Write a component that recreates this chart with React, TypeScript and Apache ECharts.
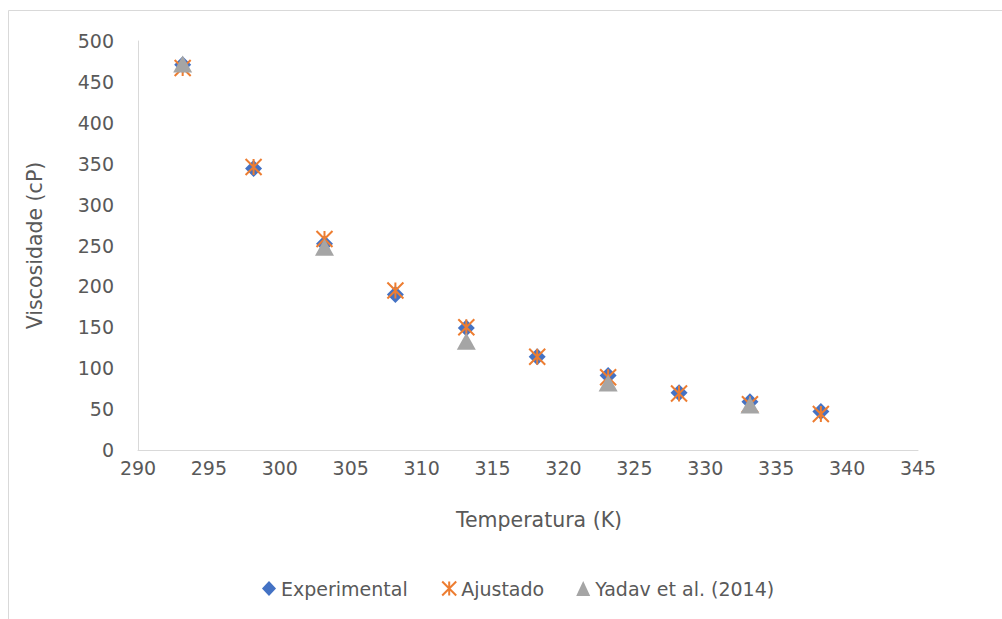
import React, { useEffect, useRef } from "react";
import * as echarts from "echarts";

const temps = [293.15, 298.15, 303.15, 308.15, 313.15, 318.15, 323.15, 328.15, 333.15, 338.15];
const experimental = [471, 344, 252, 190, 149, 114, 91, 70, 59, 47];
const ajustado = [467, 346, 258, 195, 150, 114, 89, 69, 56, 44];
const yadavTemps = [293.15, 303.15, 313.15, 323.15, 333.15];
const yadav = [472, 248, 133, 82, 55];

const seriesNames = ["Experimental", "Ajustado", "Yadav et al. (2014)"];
const xTitle = "Temperatura (K)";
const yTitle = "Viscosidade (cP)";

const FONT = "DejaVu Sans";
const TEXT = "#595959";
const AXIS = "#d9d9d9";

export default function App() {
  const ref = useRef<HTMLDivElement>(null);
  useEffect(() => {
    document.body.style.margin = "0";
    const chart = echarts.init(ref.current!, null, { renderer: "svg" });
    chart.setOption({
      animation: false,
      backgroundColor: "#ffffff",
      textStyle: { fontFamily: FONT },
      graphic: [
        {
          type: "rect",
          shape: { x: 8.5, y: 10.5, width: 1200, height: 800 },
          style: { fill: "none", stroke: AXIS, lineWidth: 1 },
          silent: true,
        },
      ],
      grid: { left: 138, right: 84, top: 41, bottom: 169 },
      legend: {
        left: 257,
        top: 574,
        itemGap: 32,
        itemWidth: 14,
        itemHeight: 15,
        textStyle: { fontSize: 19, color: TEXT, fontFamily: FONT },
        data: seriesNames,
      },
      xAxis: {
        type: "value",
        min: 290,
        max: 345,
        interval: 5,
        name: xTitle,
        nameLocation: "middle",
        nameGap: 59,
        nameTextStyle: { fontSize: 20.5, color: TEXT, fontFamily: FONT, padding: [0, 0, 0, 22] },
        axisLine: { show: true, lineStyle: { color: AXIS, width: 1 } },
        axisTick: { show: false },
        splitLine: { show: false },
        axisLabel: { fontSize: 19, color: TEXT, margin: 8, fontFamily: FONT },
      },
      yAxis: {
        type: "value",
        min: 0,
        max: 500,
        interval: 50,
        name: yTitle,
        nameLocation: "middle",
        nameGap: 93,
        nameTextStyle: { fontSize: 20.5, color: TEXT, fontFamily: FONT },
        axisLine: { show: true, lineStyle: { color: AXIS, width: 1 } },
        axisTick: { show: false },
        splitLine: { show: false },
        axisLabel: { fontSize: 19, color: TEXT, margin: 24, fontFamily: FONT },
      },
      series: [
        {
          name: seriesNames[0],
          type: "scatter",
          symbol: "diamond",
          symbolSize: 17,
          itemStyle: { color: "#4472C4", opacity: 1 },
          data: temps.map((t, i) => [t, experimental[i]]),
          z: 2,
        },
        {
          name: seriesNames[1],
          type: "scatter",
          symbol: "path://M0,0L10,10M10,0L0,10M5,0L5,10",
          symbolSize: 16,
          itemStyle: { color: "none", borderColor: "#ED7D31", borderWidth: 2, opacity: 1 },
          data: temps.map((t, i) => [t, ajustado[i]]),
          z: 3,
        },
        {
          name: seriesNames[2],
          type: "scatter",
          symbol: "triangle",
          symbolSize: [19, 17],
          itemStyle: { color: "#A5A5A5", opacity: 1 },
          data: yadavTemps.map((t, i) => [t, yadav[i]]),
          z: 4,
        },
      ],
    });
    return () => chart.dispose();
  }, []);
  return <div ref={ref} style={{ width: 1002, height: 619 }} />;
}
